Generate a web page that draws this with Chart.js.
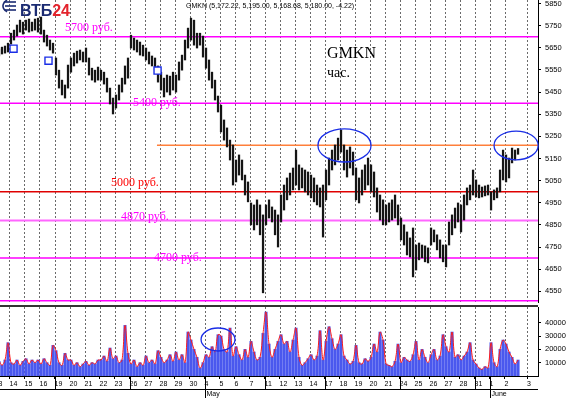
<!DOCTYPE html>
<html lang="ru">
<head>
<meta charset="utf-8">
<title>GMKN час.</title>
<script src="https://cdn.jsdelivr.net/npm/chart.js"></script>
<style>
html,body{margin:0;background:#fff;width:567px;height:398px;overflow:hidden}
#price{position:absolute;left:0;top:0;width:567px;height:303px}
#vol{position:absolute;left:0;top:303px;width:567px;height:95px}
</style>
</head>
<body>
<div id="price"><canvas id="cPrice"></canvas></div>
<div id="vol"><canvas id="cVol"></canvas></div>

<script>
/* ---------------- ось дат (торговые дни) ---------------- */
const dayLabels  = ['13','14','15','16','19','20','21','22','23','26','27','28','29','30',
                    '4','5','6','7','11','12','13','14','17','18','19','20','21','24','25','26','27','28','31',
                    '1','2','3'];
const tickDays   = [0,1,2,3,4,5,6,7,8,9,10,11,12,13,14,15,16,17,18,19,20,21,22,23,24,25,26,27,28,29,30,31,32,33,34,35.5];
const weekStarts = [4,9,18,22,27,32];
const monthNames = ['May','June'];
const monthStarts= [14,33];
const priceTicks = [4550,4600,4650,4700,4750,4800,4850,4900,4950,5000,5050,5100,5150,5200,
                    5250,5300,5350,5400,5450,5500,5550,5600,5650,5700,5750,5800,5850];
const volTicks   = [10000,20000,30000,40000];

/* ---------------- бары: 5 на день (high / low) ---------------- */
const high = [
  5640,5644,5653,5658,5671,  5716,5730,5753,5775,5766,  5775,5780,5766,5780,5784,  5789,5730,5707,5685,5671,
  5604,5549,5504,5482,5572,  5604,5626,5635,5640,5631,  5649,5604,5558,5549,5563,  5549,5540,5513,5468,5423,
  5437,5482,5513,5568,5604,  5707,5694,5685,5676,5662,  5649,5631,5613,5604,5568,  5540,5513,5527,5522,5540,
  5527,5586,5617,5685,5739,  5784,5775,5716,5716,5703,
  5649,5595,5540,5504,5432,  5391,5324,5288,5233,5211,  5143,5166,5143,5075,5044,  4949,4940,4963,4940,4895,
  4940,4963,4931,4917,4895,  4985,5030,5062,5084,5107,  5188,5121,5107,5098,5089,  5075,5062,5030,5017,5030,
  5098,5152,5188,5211,5242,  5279,5211,5188,5202,5179,  5107,5062,5098,5121,5152,  5121,5089,5017,4985,4963,
  4940,4949,4963,4985,4940,  4881,4850,4818,4791,4836,  4759,4768,4759,4755,4746,  4836,4827,4805,4782,4759,
  4759,4863,4895,4926,4949,  4940,4985,5017,5030,5098,  5053,5030,5021,5026,5030,
  4999,5008,5017,5098,5188,  5166,5152,5197,5188,5195
];
const low = [
  5613,5613,5622,5626,5631,  5667,5685,5703,5721,5712,  5730,5721,5726,5730,5721,  5712,5676,5658,5640,5626,
  5527,5468,5437,5423,5468,  5540,5568,5581,5595,5586,  5586,5527,5504,5495,5504,  5504,5486,5450,5396,5351,
  5378,5414,5450,5486,5513,  5649,5640,5631,5617,5613,  5595,5577,5568,5549,5495,  5459,5428,5450,5437,5459,
  5450,5504,5549,5595,5649,  5685,5662,5649,5662,5608,
  5558,5504,5468,5414,5360,  5270,5233,5202,5143,5030,  5044,5075,5053,4985,4954,  4850,4827,4850,4805,4543,
  4850,4881,4863,4805,4750,  4863,4917,4963,4985,5008,  5030,5008,5017,4999,4985,  4972,4954,4940,4931,4795,
  4963,5030,5098,5121,5143,  5179,5098,5066,5107,5075,  4963,4949,4985,5008,5030,  4999,4976,4908,4872,4850,
  4850,4863,4872,4881,4850,  4782,4759,4714,4705,4615,  4646,4692,4701,4683,4678,  4759,4773,4737,4701,4683,
  4660,4759,4805,4836,4863,  4818,4872,4940,4963,4985,  4976,4972,4976,4981,4985,
  4917,4963,4972,4999,5053,  5044,5062,5130,5143,5169
];
const volume = [
   9000,11000, 8000,12000,25000,  10000, 9000,12000, 8000,11000,  13000, 9000,12000,10000,12000,   9000,13000,10000, 8000,23000,
  19000,10000, 8000,17000,12000,  12000, 8000,10000, 7000, 9000,  11000, 8000,10000, 9000,12000,  12000,15000,11000,21000,13000,
  15000,10000,12000,38000,17000,   9000,12000, 7000,10000, 8000,  15000,10000,12000, 9000,19000,  14000,10000,12000,16000,11000,
  18000,12000,16000,10000,33000,  27000,20000,14000, 6000,10000,
  16000,14000,22000,18000,31000,  30000,20000,18000,36000,15000,  22000,16000,12000,20000,14000,  26000,18000,12000,14000,32000,
  48000,24000,14000,20000,26000,  31000,24000,26000,18000,27000,  36000,14000, 8000,10000,13000,  16000,12000,15000,34000,12000,
  26000,37000,28000,20000,24000,  31000,15000,12000, 9000,11000,  23000,10000, 9000,13000,11000,  14000,24000,18000,33000,27000,
   9000, 8000, 7000,11000,24000,  10000,14000,12000,11000,16000,  26000,12000,20000,14000,10000,  16000,20000,12000,15000,31000,
  22000,18000,33000,14000,16000,  12000,15000,18000,25000,12000,   9000, 6000, 5000, 7000, 6000,
  25000,10000, 7000,20000,27000,  24000,18000,14000, 9000,12000
];

/* ---------------- уровни и пометки ---------------- */
const levelPrice = [5700, 5400, 5000, 4870, 4700, 4507];
const levelText  = ['5700 руб.', '5400 руб.', '5000 руб.', '4870 руб.', '4700 руб.', ''];
const resistance = 5210;          // оранжевая линия с 27 апр.
const signalDay  = [1.27, 3.6, 10.87];
const signalPx   = [5646, 5592, 5547];
const header     = 'GMKN (5,172.22, 5,195.00, 5,168.68, 5,180.00, -4.22)';

/* ---------------- оформление ---------------- */
const X_MIN = 0.367, X_MAX = 36.23, BPD = 5;
const barX = i => Math.floor(i / BPD) + (i % BPD + 0.5) / BPD;
const levelStyle = [
  {color:'#ff00ff', w:1.5, tx:4.7,   ty:5739, tc:'#ff00ff'},
  {color:'#ff00ff', w:1.5, tx:9.23,  ty:5400, tc:'#ff00ff'},
  {color:'#e00000', w:1.5, tx:7.77,  ty:5039, tc:'#ff0000'},
  {color:'#ff66ff', w:2,   tx:8.43,  ty:4888, tc:'#ff00ff'},
  {color:'#ff00ff', w:1.5, tx:10.63, ty:4700, tc:'#ff00ff'},
  {color:'#ff00ff', w:1.5}
];
const ellipses = [
  {x:23.33, y:5209, rx:1.77, ry:75},
  {x:34.77, y:5209, rx:1.47, ry:65}
];
const volEllipse = {x:14.9, y:27400, rx:1.13, ry:8650};
const SANS = '"Liberation Sans", Arial, sans-serif';
const SERIF = '"Liberation Serif", "Times New Roman", serif';

function xAxis(showLabels){
  return {
    type:'linear', min:X_MIN, max:X_MAX, offset:false,
    afterBuildTicks: s => { s.ticks = tickDays.map(v => ({value:v})); },
    afterFit: s => { s.height = showLabels ? 22 : 0; s.paddingLeft = 0; s.paddingRight = 0; },
    grid:{offset:false, drawOnChartArea:false, drawTicks:showLabels, tickLength:3, color:'#000'},
    border:{display:showLabels, color:'#000'},
    ticks:{display:showLabels, autoSkip:false, maxRotation:0, align:'start', padding:1, color:'#000',
           font:{family:SANS, size:7}, callback:(v, i) => dayLabels[i]}
  };
}
function yAxis(min, max, ticks){
  return {
    position:'right', min, max,
    afterBuildTicks: s => { s.ticks = ticks.map(v => ({value:v})); },
    afterFit: s => { s.width = 29; s.paddingTop = 0; s.paddingBottom = 0; },
    grid:{drawOnChartArea:false, tickLength:3, color:'#000'},
    border:{display:true, color:'#000'},
    ticks:{color:'#000', padding:4, font:{family:SANS, size:7.5}, callback:v => String(v)}
  };
}

// пунктирная сетка по границам дней
const dayGrid = {
  id:'dayGrid',
  beforeDatasetsDraw(chart){
    const {ctx, chartArea:a, scales:{x}} = chart;
    ctx.save();
    ctx.strokeStyle = '#6a6a6a'; ctx.lineWidth = 1; ctx.setLineDash([2, 2]);
    tickDays.forEach(d => {
      const px = Math.round(x.getPixelForValue(d)) + 0.5;
      if (px < a.left || px > a.right) return;
      ctx.beginPath();
      ctx.moveTo(px, a.top); ctx.lineTo(px, a.bottom);
      ctx.stroke();
    });
    ctx.restore();
  }
};

function drawEllipse(ctx, chart, e){
  const {x, y} = chart.scales;
  const cx = x.getPixelForValue(e.x), cy = y.getPixelForValue(e.y);
  const rx = Math.abs(x.getPixelForValue(e.x + e.rx) - cx);
  const ry = Math.abs(y.getPixelForValue(e.y + e.ry) - cy);
  ctx.save();
  ctx.strokeStyle = '#1a2ee6'; ctx.lineWidth = 1.3;
  ctx.beginPath(); ctx.ellipse(cx, cy, rx, ry, 0, 0, Math.PI * 2); ctx.stroke();
  ctx.restore();
}

/* ---------------- график цены ---------------- */
const priceDecor = {
  id:'priceDecor',
  afterDraw(chart){
    const {ctx, scales:{x, y}} = chart;
    ellipses.forEach(e => drawEllipse(ctx, chart, e));
    ctx.save();
    ctx.textBaseline = 'middle';
    ctx.font = '12px ' + SERIF;
    levelText.forEach((t, i) => {
      if (!t) return;
      const st = levelStyle[i];
      ctx.fillStyle = st.tc;
      ctx.fillText(t, x.getPixelForValue(st.tx), y.getPixelForValue(st.ty));
    });
    ctx.fillStyle = '#000';
    ctx.font = '16px ' + SERIF;
    ctx.fillText('GMKN', x.getPixelForValue(22.17), y.getPixelForValue(5622));
    ctx.font = '14px ' + SERIF;
    ctx.fillText('час.', x.getPixelForValue(22.17), y.getPixelForValue(5536));
    ctx.font = '7px ' + SANS;
    ctx.fillText(header, 186, 6.5);
    // логотип
    ctx.strokeStyle = '#1b2b72'; ctx.lineWidth = 1.6;
    for (let k = 0; k < 3; k++) {
      ctx.beginPath();
      ctx.moveTo(16, 2 + k * 4); ctx.lineTo(5, 2 + k * 4);
      ctx.stroke();
    }
    ctx.beginPath(); ctx.arc(9, 6, 6, Math.PI * 0.6, Math.PI * 1.4); ctx.stroke();
    ctx.font = 'bold 16px ' + SANS;
    ctx.fillStyle = '#1b2b72';
    ctx.fillText('ВТБ', 20, 12);
    const w = ctx.measureText('ВТБ').width;
    ctx.fillStyle = '#e3232c';
    ctx.fillText('24', 20 + w, 12);
    ctx.restore();
  }
};

const levelSets = levelPrice.map((p, i) => ({
  type:'line', order:3,
  data:[{x:0, y:p}, {x:37, y:p}],
  borderColor:levelStyle[i].color, borderWidth:levelStyle[i].w, pointRadius:0
}));

new Chart(document.getElementById('cPrice'), {
  type:'bar',
  data:{datasets:[
    {type:'bar', order:2, data:high.map((h, i) => ({x:barX(i), y:[low[i], h]})),
     backgroundColor:'#151515', barThickness:1.6},
    ...levelSets,
    {type:'line', order:3, data:[{x:10.83, y:resistance}, {x:37, y:resistance}],
     borderColor:'#ff7f3a', borderWidth:1.5, pointRadius:0},
    {type:'scatter', order:1, data:signalDay.map((d, i) => ({x:d, y:signalPx[i]})),
     pointStyle:'rect', pointRadius:5, borderColor:'#1a2ee6', backgroundColor:'#fff', borderWidth:1.4}
  ]},
  options:{
    animation:false, responsive:true, maintainAspectRatio:false, events:[],
    layout:{padding:0, autoPadding:false},
    scales:{x:xAxis(false), y:yAxis(4497, 5866, priceTicks)},
    plugins:{legend:{display:false}, tooltip:{enabled:false}}
  },
  plugins:[dayGrid, priceDecor]
});

/* ---------------- объём ---------------- */
const volDecor = {
  id:'volDecor',
  afterDraw(chart){
    const {ctx, chartArea:a, scales:{x}} = chart;
    drawEllipse(ctx, chart, volEllipse);
    ctx.save();
    ctx.fillStyle = '#333';
    ctx.fillRect(0, a.top - 2, a.right, 2);
    ctx.strokeStyle = '#000'; ctx.lineWidth = 1;
    ctx.beginPath();
    ctx.moveTo(0, a.bottom + 13.5); ctx.lineTo(a.right, a.bottom + 13.5);
    weekStarts.forEach(d => {
      const px = Math.round(x.getPixelForValue(d)) + 0.5;
      ctx.moveTo(px, a.bottom); ctx.lineTo(px, a.bottom + 13);
    });
    monthStarts.forEach(d => {
      const px = Math.round(x.getPixelForValue(d)) + 0.5;
      ctx.moveTo(px, a.bottom); ctx.lineTo(px, chart.height);
    });
    ctx.stroke();
    ctx.fillStyle = '#000';
    ctx.font = '7px ' + SANS;
    ctx.textBaseline = 'middle';
    monthNames.forEach((m, i) => ctx.fillText(m, x.getPixelForValue(monthStarts[i]) + 2, a.bottom + 18));
    ctx.restore();
  }
};

const volData = volume.map((v, i) => ({x:barX(i), y:v}));
new Chart(document.getElementById('cVol'), {
  type:'bar',
  data:{datasets:[
    {type:'line', order:1, data:volData, borderColor:'#ff1a1a', borderWidth:1,
     pointRadius:0, tension:0.35},
    {type:'bar', order:2, data:volData, backgroundColor:'#4a58ee', barThickness:2.4}
  ]},
  options:{
    animation:false, responsive:true, maintainAspectRatio:false, events:[],
    layout:{padding:{top:4}, autoPadding:false},
    scales:{x:xAxis(true), y:yAxis(0, 51800, volTicks)},
    plugins:{legend:{display:false}, tooltip:{enabled:false}}
  },
  plugins:[dayGrid, volDecor]
});
</script>
</body>
</html>
